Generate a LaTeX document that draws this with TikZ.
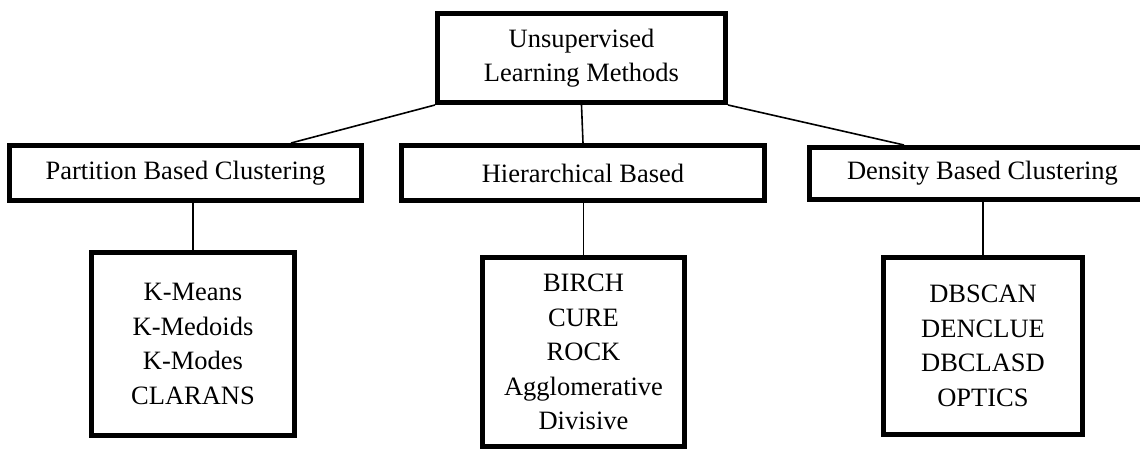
\documentclass[tikz,border=0pt]{standalone}
\usepackage{fontspec}
\setmainfont{Liberation Serif}
\usetikzlibrary{positioning}

\begin{document}
\begin{tikzpicture}[x=1pt,y=-1pt,
    box/.style={draw,line width=5pt,align=center,inner sep=0pt,
      font=\fontsize{26.5}{34.5}\selectfont},
    link/.style={line width=1.6pt}]
    \useasboundingbox (0,0) rectangle (1140,450);
    \clip (0,0) rectangle (1140,450);

    \node[box,minimum width=288,minimum height=89] (root) at (581.5,58) {Unsupervised\\Learning Methods};

    \node[box,minimum width=352,minimum height=55] (part) at (185.5,173) {Partition Based Clustering};
    \node[box,minimum width=363,minimum height=55] (hier) at (583,173) {Hierarchical Based};
    \node[box,minimum width=346,minimum height=52] (dens) at (982.5,173.5) {Density Based Clustering};

    \node[box,minimum width=203,minimum height=183] (partlist) at (193,344) {K-Means\\K-Medoids\\K-Modes\\CLARANS};
    \node[box,minimum width=202,minimum height=189] (hierlist) at (583.5,352) {BIRCH\\CURE\\ROCK\\Agglomerative\\Divisive};
    \node[box,minimum width=199,minimum height=177] (denslist) at (983,346) {DBSCAN\\DENCLUE\\DBCLASD\\OPTICS};

    \coordinate (parttop) at (291,143);
    \coordinate (denstop) at (904,145);

    \draw[link] (root.south west) -- (parttop);
    \draw[link] (root.south) -- (hier.north);
    \draw[link] (root.south east) -- (denstop);

    \draw[link] (partlist.north) -- (partlist.north |- part.south);
    \draw[link] (hierlist.north) -- (hierlist.north |- hier.south);
    \draw[link] (denslist.north) -- (denslist.north |- dens.south);
  \end{tikzpicture}
\end{document}
